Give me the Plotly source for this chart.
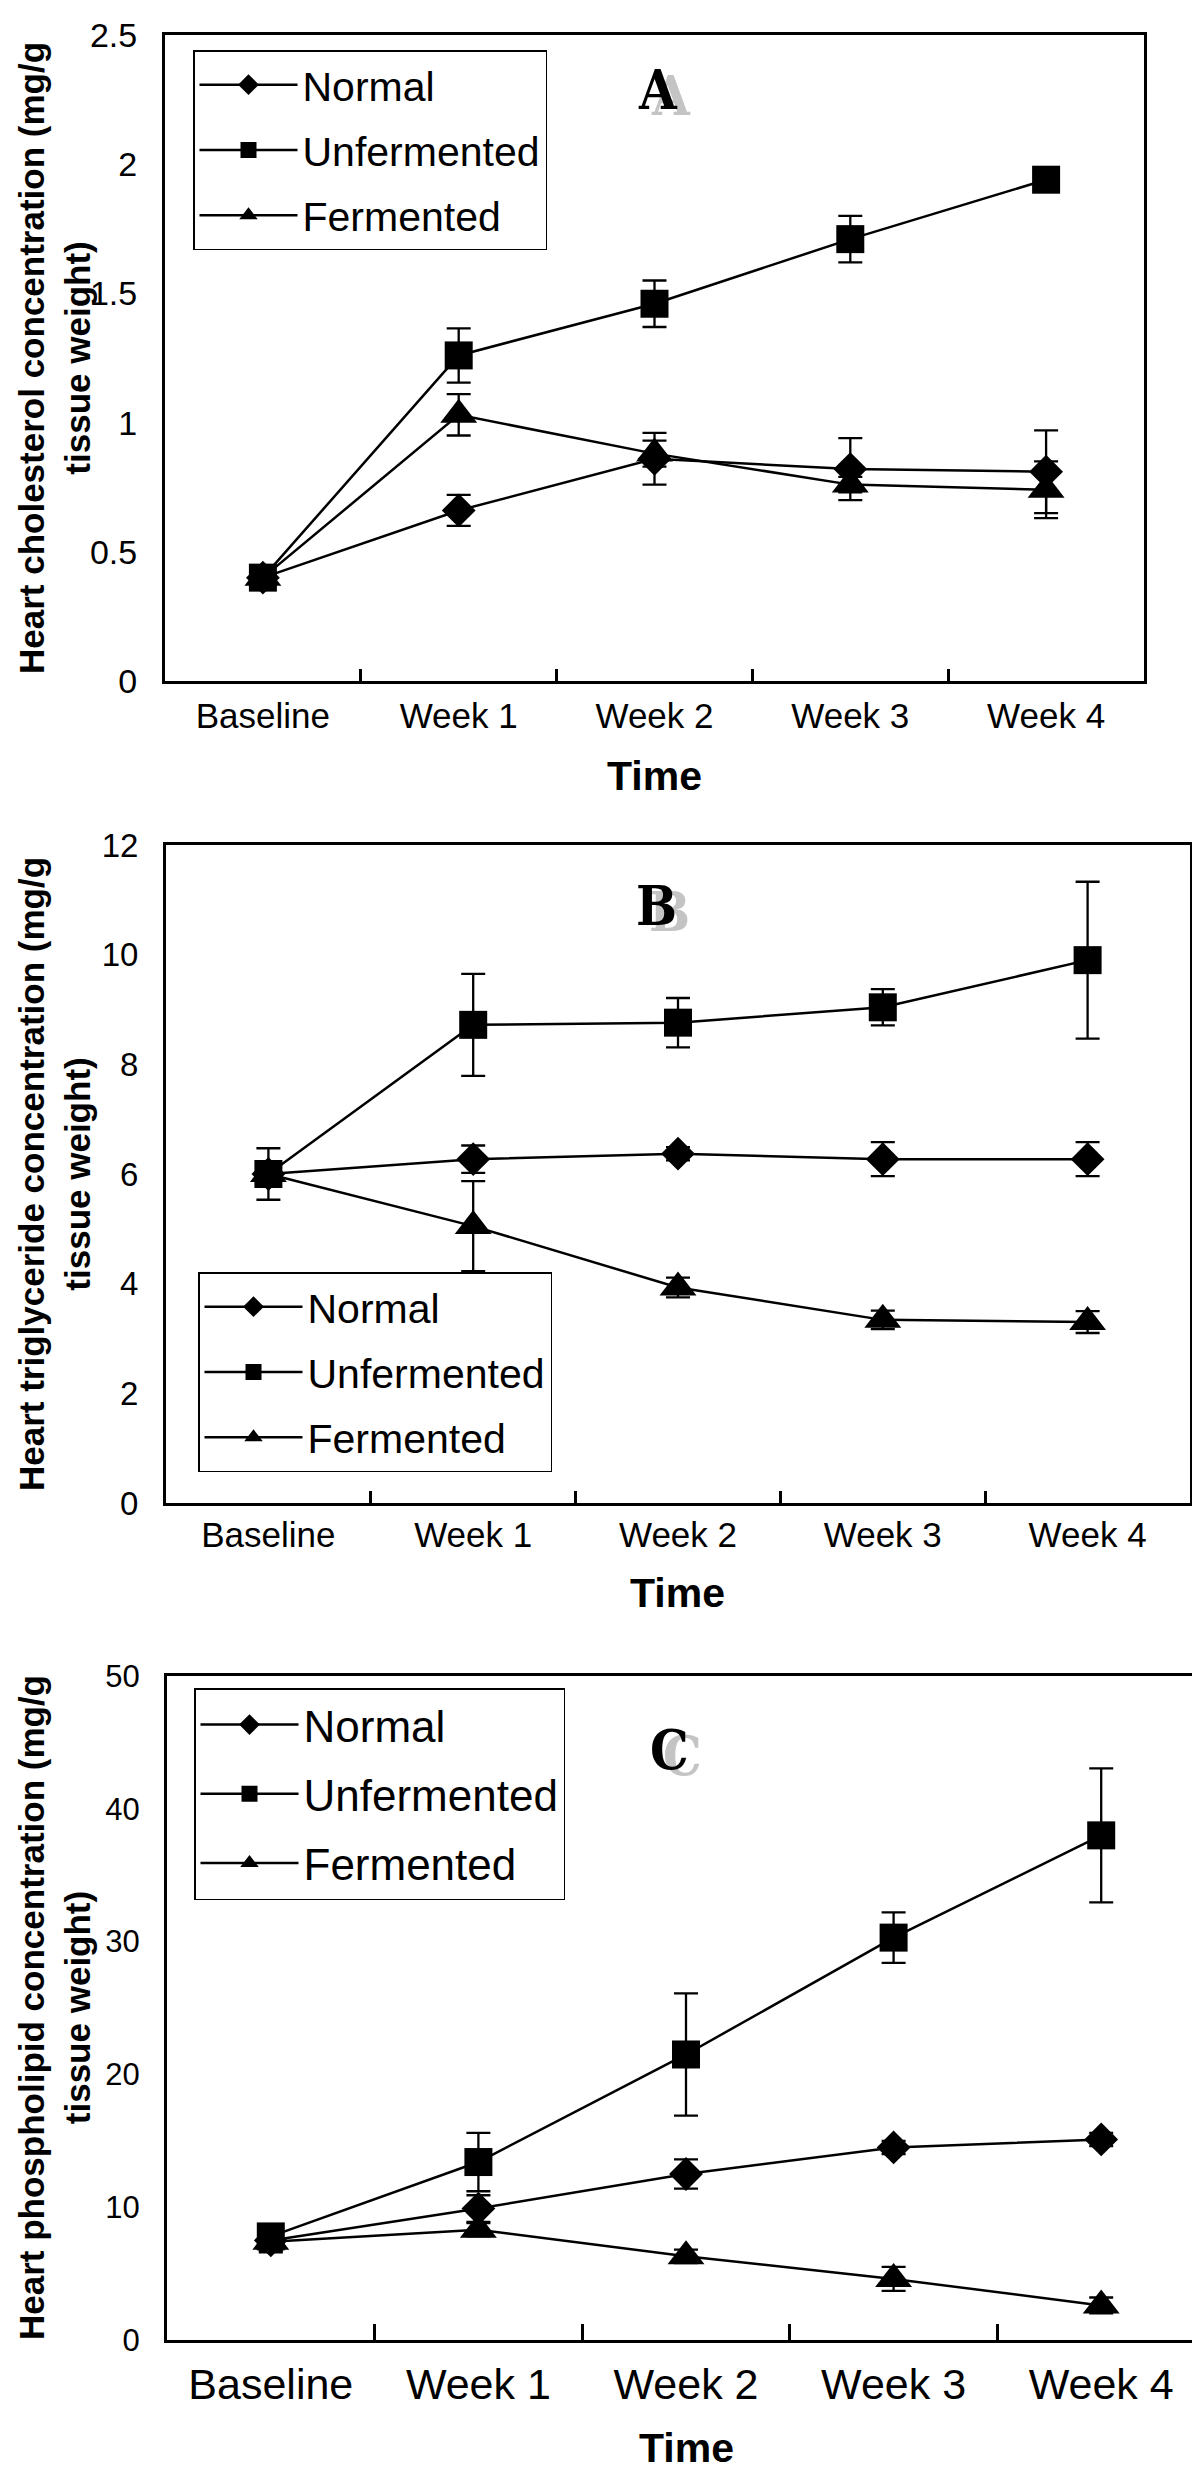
import plotly.graph_objects as go

# ---------------- data ----------------
categories = ["Baseline", "Week 1", "Week 2", "Week 3", "Week 4"]
series_names = ["Normal", "Unfermented", "Fermented"]

# Panel A: heart cholesterol (mg/g tissue weight)
chol_normal = [0.40, 0.66, 0.86, 0.82, 0.81]
chol_normal_err = [0.03, 0.06, 0.10, 0.12, 0.16]
chol_unf = [0.40, 1.26, 1.46, 1.71, 1.94]
chol_unf_err = [0.03, 0.105, 0.09, 0.09, 0.02]
chol_ferm = [0.40, 1.03, 0.88, 0.76, 0.74]
chol_ferm_err = [0.03, 0.08, 0.05, 0.03, 0.11]

# Panel B: heart triglyceride
tg_normal = [6.0, 6.27, 6.37, 6.27, 6.27]
tg_normal_err = [0.2, 0.25, 0.12, 0.31, 0.31]
tg_unf = [6.0, 8.72, 8.76, 9.04, 9.90]
tg_unf_err = [0.47, 0.93, 0.45, 0.33, 1.43]
tg_ferm = [6.0, 5.05, 3.93, 3.34, 3.30]
tg_ferm_err = [0.2, 0.82, 0.18, 0.17, 0.2]

# Panel C: heart phospholipid
pl_normal = [7.5, 9.9, 12.5, 14.5, 15.1]
pl_normal_err = [0.8, 1.0, 1.1, 0.5, 0.5]
pl_unf = [7.8, 13.4, 21.5, 30.3, 38.0]
pl_unf_err = [0.8, 2.2, 4.6, 1.9, 5.05]
pl_ferm = [7.4, 8.3, 6.3, 4.6, 2.6]
pl_ferm_err = [0.8, 0.5, 0.5, 0.9, 0.6]

y_titles = [
    "Heart cholesterol concentration (mg/g<br>tissue weight)",
    "Heart triglyceride concentration (mg/g<br>tissue weight)",
    "Heart phospholipid concentration (mg/g<br>tissue weight)",
]
panel_letters = ["A", "B", "C"]
y_ranges = [[0, 2.5], [0, 12], [0, 50]]
y_dticks = [0.5, 2, 10]

# ---------------- layout geometry ----------------
W, H = 1200, 2470
FONT = "Liberation Sans, Arial, Helvetica, sans-serif"
SERIF = "DejaVu Serif Condensed, Liberation Serif, Times New Roman, serif"

# pixel boxes of the three plot areas: (left, right, top, bottom)
boxes = [(157, 1136, 27, 673), (158, 1182, 837, 1495), (159, 1197, 1668, 2332)]
xtick_font = [35, 35, 43]
ytick_font = [34, 33, 31]
xtick_len = [12, 12, 16]
xlabel_standoff = [2, -1, 4]
legend_font = [41, 41, 44]
legend_pos = [(185, 42), (190, 1264), (186, 1680)]
time_y = [768, 1585, 2440]
letter_pos = [(650, 82), (648, 898), (661, 1742)]

panels = [
    (chol_normal, chol_normal_err, chol_unf, chol_unf_err, chol_ferm, chol_ferm_err),
    (tg_normal, tg_normal_err, tg_unf, tg_unf_err, tg_ferm, tg_ferm_err),
    (pl_normal, pl_normal_err, pl_unf, pl_unf_err, pl_ferm, pl_ferm_err),
]

symbols = {"Normal": "diamond", "Unfermented": "square", "Fermented": "triangle-up"}
msizes = {"Normal": 26, "Unfermented": 28, "Fermented": 32}
draw_order = ["Normal", "Fermented", "Unfermented"]
rank = {"Normal": 1, "Unfermented": 2, "Fermented": 3}

fig = go.Figure()
layout = dict(
    width=W, height=H,
    margin=dict(l=0, r=0, t=0, b=0, autoexpand=False),
    paper_bgcolor="white", plot_bgcolor="white",
    font=dict(family=FONT, color="black"),
    annotations=[],
)

for i, vals in enumerate(panels):
    n, ne, u, ue, f, fe = vals
    data = {"Normal": (n, ne), "Unfermented": (u, ue), "Fermented": (f, fe)}
    sfx = "" if i == 0 else str(i + 1)
    xa, ya = "x" + sfx, "y" + sfx
    leg = "legend" + sfx
    for name in draw_order:
        yv, ev = data[name]
        fig.add_trace(go.Scatter(
            x=categories, y=yv, name=name, mode="lines+markers",
            xaxis=xa, yaxis=ya, legend=leg, legendrank=rank[name],
            legendgroup=name + sfx,
            line=dict(color="black", width=2.5),
            marker=dict(symbol=symbols[name], size=msizes[name], color="black",
                        line=dict(width=0)),
            error_y=dict(type="data", array=ev, visible=True, color="black",
                         thickness=2.3, width=12),
        ))
    l, r, t, b = boxes[i]
    layout["xaxis" + sfx] = dict(
        domain=[l / W, r / W], anchor=ya, type="category", automargin=False,
        range=[-0.5, 4.5], showline=True, linecolor="black", linewidth=3,
        mirror=True, ticks="inside", tickson="boundaries",
        ticklen=xtick_len[i], tickwidth=2.5, tickcolor="black",
        showgrid=False, zeroline=False,
        tickfont=dict(size=xtick_font[i], family=FONT, color="black"),
        ticklabelstandoff=xlabel_standoff[i],
    )
    layout["yaxis" + sfx] = dict(
        domain=[1 - b / H, 1 - t / H], anchor=xa, automargin=False,
        range=y_ranges[i], dtick=y_dticks[i], tick0=0,
        showline=True, linecolor="black", linewidth=3, mirror=True,
        ticks="", showgrid=False, zeroline=False,
        tickfont=dict(size=ytick_font[i], family=FONT, color="black"),
        ticklabelstandoff=18,
    )
    lx, ly = legend_pos[i]
    layout[leg] = dict(
        x=lx / W, y=1 - ly / H, xanchor="left", yanchor="top",
        xref="paper", yref="paper",
        bgcolor="white", bordercolor="black", borderwidth=1.5,
        font=dict(size=legend_font[i], family=FONT, color="black"),
        traceorder="grouped", tracegroupgap=9, itemwidth=98,
    )
    # y-axis title
    layout["annotations"].append(dict(
        text=y_titles[i], xref="paper", x=46 / W, yref=ya + " domain", y=0.5,
        xanchor="center", yanchor="middle", textangle=-90, showarrow=False,
        font=dict(size=35, family=FONT, color="black", weight="bold"),
        align="center",
    ))
    # x-axis title
    layout["annotations"].append(dict(
        text="<b>Time</b>", xref=xa + " domain", x=0.5, yref="paper",
        y=1 - time_y[i] / H, xanchor="center", yanchor="middle",
        showarrow=False, font=dict(size=41, family=FONT, color="black"),
    ))
    # panel letter with grey shadow
    px, py = letter_pos[i]
    layout["annotations"].append(dict(
        text="<b>" + panel_letters[i] + "</b>", xref="paper", yref="paper",
        x=(px + 13) / W, y=1 - (py + 6) / H, xanchor="center", yanchor="middle",
        showarrow=False, font=dict(size=54, family=SERIF, color="#c4c4c4"),
    ))
    layout["annotations"].append(dict(
        text="<b>" + panel_letters[i] + "</b>", xref="paper", yref="paper",
        x=px / W, y=1 - py / H, xanchor="center", yanchor="middle",
        showarrow=False, font=dict(size=54, family=SERIF, color="black"),
    ))

fig.update_layout(**layout)
fig.write_html("out.html")
